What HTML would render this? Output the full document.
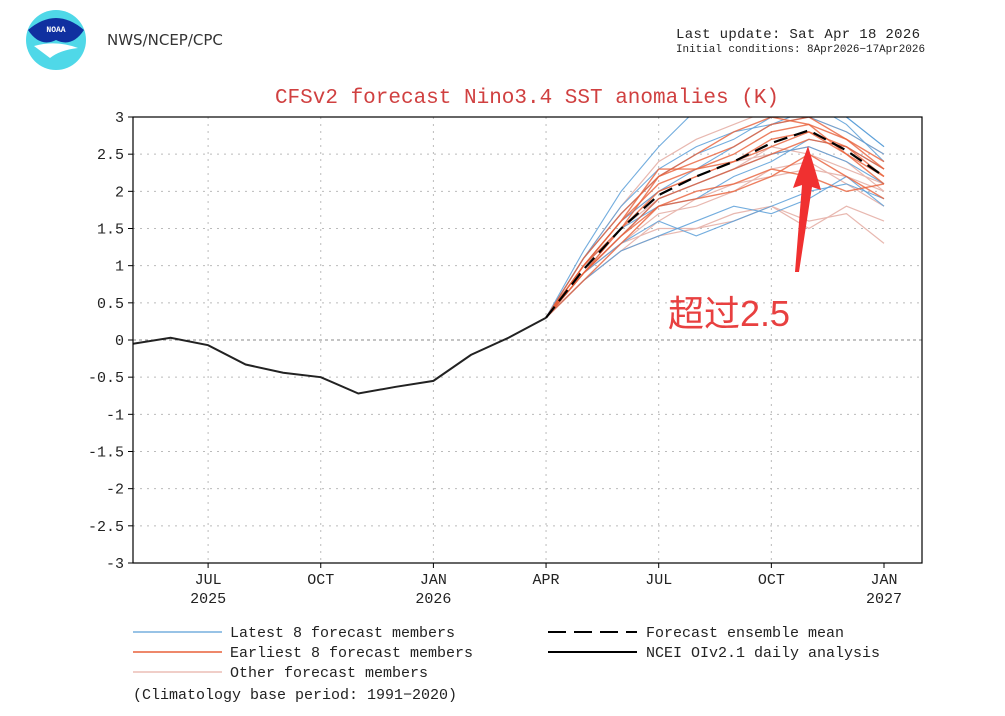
<!DOCTYPE html>
<html><head><meta charset="utf-8"><style>
body{margin:0;background:#fff;width:1005px;height:711px;overflow:hidden;font-family:"Liberation Sans","Noto Sans CJK SC",sans-serif}
svg text{font-family:"Liberation Mono","DejaVu Sans Mono",monospace}
</style></head><body>
<svg id="c" width="1005" height="711">
<g>
<circle cx="56" cy="40" r="30" fill="#4fd8e8"/>
<path d="M28,30 Q56,6 84,30 Q72,48 56,40 Q40,48 28,30Z" fill="#1030a0"/>
<path d="M34,46 Q56,40 78,48 Q60,50 50,58Z" fill="#fff"/>
<text x="56" y="32" font-size="8" fill="#fff" text-anchor="middle" font-weight="bold">NOAA</text>
</g>
<text x="107" y="45" font-size="15" fill="#333" style="font-family:'DejaVu Sans',sans-serif">NWS/NCEP/CPC</text>
<text x="676" y="38" font-size="14" fill="#222" textLength="244">Last update: Sat Apr 18 2026</text>
<text x="676" y="52" font-size="11" fill="#222" textLength="249" lengthAdjust="spacingAndGlyphs">Initial conditions: 8Apr2026−17Apr2026</text>
<text x="527" y="103" font-size="21" fill="#d04040" text-anchor="middle">CFSv2 forecast Nino3.4 SST anomalies (K)</text>
<g id="grid"></g>
<g id="series"></g>
<rect x="133" y="117" width="789" height="446" fill="none" stroke="#000" stroke-width="1.2"/>
<g id="axes"></g>
<g>
<polygon points="795,272 802,185 793,188 808,146 821,190 812,187 799,272" fill="#f03030"/>
</g>
<text x="668" y="326" font-size="36" fill="#e84040" style="font-family:'Liberation Sans','Noto Sans CJK SC',sans-serif">超过2.5</text>
<g font-size="15" fill="#222">
<line x1="133" y1="632" x2="222" y2="632" stroke="#5a9fd8" stroke-width="1.2"/><text x="230" y="637">Latest 8 forecast members</text>
<line x1="133" y1="652" x2="222" y2="652" stroke="#e8603a" stroke-width="1.5"/><text x="230" y="657">Earliest 8 forecast members</text>
<line x1="133" y1="672" x2="222" y2="672" stroke="#e8b0a8" stroke-width="1.2"/><text x="230" y="677">Other forecast members</text>
<line x1="548" y1="632" x2="637" y2="632" stroke="#000" stroke-width="2" stroke-dasharray="18,8"/><text x="646" y="637">Forecast ensemble mean</text>
<line x1="548" y1="652" x2="637" y2="652" stroke="#000" stroke-width="2"/><text x="646" y="657">NCEI OIv2.1 daily analysis</text>
<text x="133" y="699">(Climatology base period: 1991−2020)</text>
</g>
</svg>
<script>
const yTicks=[3,2.5,2,1.5,1,0.5,0,-0.5,-1,-1.5,-2,-2.5,-3];
const xTickMonths=[2,5,8,11,14,17,20];
const xTickLabels=[["JUL","2025"],["OCT",""],["JAN","2026"],["APR",""],["JUL",""],["OCT",""],["JAN","2027"]];
const obsMonths=[0,1,2,3,4,5,6,7,8,9,10,11];
const obsValues=[-0.05,0.03,-0.07,-0.33,-0.44,-0.5,-0.72,-0.63,-0.55,-0.2,0.03,0.3];
const fcMonths=[11,12,13,14,15,16,17,18,19,20];
const meanValues=[0.3,0.95,1.5,1.95,2.2,2.4,2.65,2.82,2.55,2.2];
const latestMembers=[
[0.3,1.2,2.0,2.6,3.1,3.3,3.2,3.1,3.0,2.6],
[0.3,1.1,1.8,2.3,2.6,2.8,2.9,3.0,2.8,2.5],
[0.3,0.9,1.3,1.6,1.4,1.6,1.8,2.0,2.1,1.9],
[0.3,1.0,1.5,1.8,1.9,2.2,2.4,2.7,2.6,2.3],
[0.3,0.8,1.2,1.4,1.6,1.8,1.7,1.9,2.2,1.8],
[0.3,1.0,1.6,2.0,2.3,2.6,2.9,3.1,3.0,2.6],
[0.3,0.9,1.4,1.9,2.1,2.3,2.5,2.6,2.4,2.1],
[0.3,1.1,1.7,2.2,2.5,2.7,3.0,3.2,2.9,2.4]];
const earliestMembers=[
[0.3,1.0,1.6,2.3,2.3,2.4,2.6,2.8,2.6,2.2],
[0.3,0.9,1.5,2.2,2.4,2.6,2.9,3.0,2.7,2.3],
[0.3,1.1,1.7,2.2,2.5,2.8,3.0,2.9,2.5,2.1],
[0.3,0.9,1.4,1.9,2.1,2.3,2.5,2.7,2.6,2.3],
[0.3,1.0,1.6,2.1,2.3,2.5,2.8,2.9,2.7,2.4],
[0.3,0.8,1.3,1.8,2.0,2.1,2.3,2.2,2.0,2.1],
[0.3,1.0,1.5,2.0,2.2,2.4,2.7,2.8,2.5,2.2],
[0.3,0.9,1.4,1.8,1.9,2.0,2.2,2.5,2.2,1.9]];
const otherMembers=[
[0.3,0.8,1.2,1.4,1.5,1.7,1.8,1.6,1.7,1.3],
[0.3,0.9,1.3,1.5,1.5,1.6,1.8,1.5,1.8,1.6],
[0.3,1.0,1.6,2.0,2.2,2.4,2.5,2.6,2.4,2.0],
[0.3,0.9,1.5,1.9,2.1,2.3,2.6,2.5,2.3,2.1],
[0.3,0.9,1.3,1.7,1.8,2.0,2.3,2.4,2.1,1.8],
[0.3,1.1,1.8,2.4,2.7,2.9,3.1,3.0,2.8,2.5],
[0.3,0.8,1.2,1.6,1.9,2.1,2.2,2.3,2.2,2.0]];
const X0=133,XW=37.55,Y0=340,YS=74.33;
function xs(m){return X0+m*XW}
function ys(v){return Y0-v*YS}
const NS="http://www.w3.org/2000/svg";
function mk(t,a,p){const e=document.createElementNS(NS,t);for(const k in a)e.setAttribute(k,a[k]);p.appendChild(e);return e}
const grid=document.getElementById('grid'),axes=document.getElementById('axes'),ser=document.getElementById('series');
yTicks.forEach(v=>{
 if(v!==3&&v!==-3&&v!==0){const l=mk('line',{x1:133,x2:922,y1:ys(v),y2:ys(v),stroke:'#bbb','stroke-dasharray':'2,5'},grid);
 
 }
 const t=mk('text',{x:124,y:ys(v)+5,'font-size':15,'text-anchor':'end',fill:'#222'},axes);t.textContent=v;
 
 
 mk('line',{x1:128,x2:133,y1:ys(v),y2:ys(v),stroke:'#000'},axes);
});
xTickMonths.forEach((m,i)=>{
 if(m<20){const l=mk('line',{x1:xs(m),x2:xs(m),y1:117,y2:563,stroke:'#bbb','stroke-dasharray':'2,5'},grid);
 
 }
 mk('line',{x1:xs(m),x2:xs(m),y1:563,y2:568,stroke:'#000'},axes);
 const t=mk('text',{x:xs(m),y:584,'font-size':15,'text-anchor':'middle',fill:'#222'},axes);t.textContent=xTickLabels[i][0];
 
 
 if(xTickLabels[i][1]){const t2=mk('text',{x:xs(m),y:603,'font-size':15,'text-anchor':'middle',fill:'#222'},axes);t2.textContent=xTickLabels[i][1];
 
 }
});
const zl=mk('line',{x1:133,x2:922,y1:ys(0),y2:ys(0),stroke:'#888','stroke-dasharray':'3,3'},grid);


const cp=mk('clipPath',{id:'pc'},mk('defs',{},document.getElementById('c')));mk('rect',{x:133,y:117,width:789,height:446},cp);
ser.setAttribute('clip-path','url(#pc)');
function pts(ms,vs){return vs.map((v,i)=>xs(ms[i])+','+ys(v)).join(' ')}
otherMembers.forEach(s=>{const p=mk('polyline',{points:pts(fcMonths,s),fill:'none',stroke:'#e8b8b0','stroke-width':1.2},ser);
 
 });
latestMembers.forEach(s=>{const p=mk('polyline',{points:pts(fcMonths,s),fill:'none',stroke:'#5a9fd8','stroke-width':1.1,opacity:0.85},ser);
 
 });
earliestMembers.forEach(s=>{const p=mk('polyline',{points:pts(fcMonths,s),fill:'none',stroke:'#e8603a','stroke-width':1.4,opacity:0.8},ser);
 
 });
const mn=mk('polyline',{points:pts(fcMonths,meanValues),fill:'none',stroke:'#000','stroke-width':2.2,'stroke-dasharray':'14,7'},ser);


const ob=mk('polyline',{points:pts(obsMonths,obsValues),fill:'none',stroke:'#222','stroke-width':2},ser);


</script>
</body></html>
